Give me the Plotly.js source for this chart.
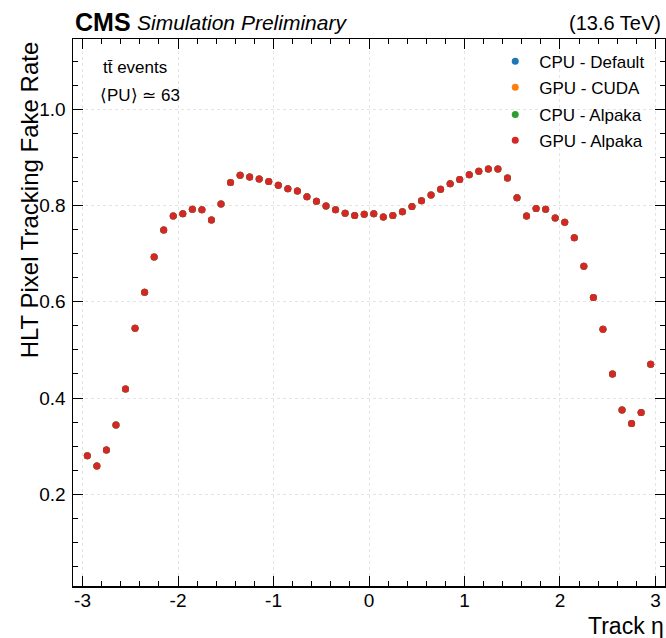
<!DOCTYPE html>
<html>
<head>
<meta charset="utf-8">
<script src="https://cdn.plot.ly/plotly-3.0.1.min.js"></script>
<style>
  html, body { margin: 0; padding: 0; background: #fff; }
  #chart { width: 666px; height: 638px; }
</style>
</head>
<body>
<div id="chart"></div>
<script>
// Bin centres in track eta
const etaCenters = [
  -2.95, -2.85, -2.75, -2.65, -2.55, -2.45, -2.35, -2.25, -2.15, -2.05,
  -1.95, -1.85, -1.75, -1.65, -1.55, -1.45, -1.35, -1.25, -1.15, -1.05,
  -0.95, -0.85, -0.75, -0.65, -0.55, -0.45, -0.35, -0.25, -0.15, -0.05,
   0.05,  0.15,  0.25,  0.35,  0.45,  0.55,  0.65,  0.75,  0.85,  0.95,
   1.05,  1.15,  1.25,  1.35,  1.45,  1.55,  1.65,  1.75,  1.85,  1.95,
   2.05,  2.15,  2.25,  2.35,  2.45,  2.55,  2.65,  2.75,  2.85,  2.95
];

// Fake rate per bin (all four back-ends overlap exactly in the picture)
const fakeRate = [
  0.280, 0.259, 0.292, 0.344, 0.419, 0.545, 0.620, 0.693, 0.749, 0.778,
  0.783, 0.792, 0.791, 0.770, 0.803, 0.848, 0.863, 0.859, 0.855, 0.850,
  0.842, 0.835, 0.830, 0.818, 0.809, 0.799, 0.791, 0.784, 0.779, 0.782,
  0.783, 0.776, 0.779, 0.787, 0.798, 0.810, 0.822, 0.834, 0.845, 0.854,
  0.864, 0.871, 0.876, 0.876, 0.857, 0.816, 0.778, 0.794, 0.792, 0.774,
  0.765, 0.733, 0.674, 0.609, 0.543, 0.450, 0.375, 0.347, 0.370, 0.470
];

const seriesNames = ['CPU - Default', 'GPU - CUDA', 'CPU - Alpaka', 'GPU - Alpaka'];
const seriesColors = ['#1f77b4', '#ff7f0e', '#2ca02c', '#d62728'];
const seriesValues = [fakeRate, fakeRate, fakeRate, fakeRate];

const xTickVals = [-3, -2, -1, 0, 1, 2, 3];
const xTickText = ['-3', '-2', '-1', '0', '1', '2', '3'];

const FONT = 'Liberation Sans, Arial, Helvetica, sans-serif';
const legendIds = ['legend', 'legend2', 'legend3', 'legend4'];
const legendY = [0.9585, 0.911, 0.861, 0.814];

const traces = seriesNames.map((name, i) => ({
  type: 'scatter',
  mode: 'markers',
  x: etaCenters,
  y: seriesValues[i],
  name: name,
  legend: legendIds[i],
  marker: { color: seriesColors[i], size: 7 },
  hoverinfo: 'x+y+name'
}));

const layout = {
  width: 666,
  height: 638,
  margin: { l: 73, r: 1, t: 39, b: 52 },
  paper_bgcolor: '#ffffff',
  plot_bgcolor: '#ffffff',
  font: { family: FONT, color: '#000', size: 19 },
  showlegend: true,
  xaxis: {
    range: [-3.1, 3.1],
    tickmode: 'array',
    tickvals: xTickVals,
    ticktext: xTickText,
    ticks: 'inside',
    ticklen: 10,
    tickwidth: 1,
    tickcolor: '#000',
    showline: true,
    linecolor: '#000',
    linewidth: 1.5,
    mirror: 'allticks',
    showgrid: true,
    gridcolor: '#e4e4e4',
    griddash: 'dot',
    gridwidth: 1,
    zeroline: false,
    ticklabelstandoff: -3,
    tickfont: { family: FONT, size: 19, color: '#000' },
    minor: { dtick: 0.2, tick0: 0, ticks: 'inside', ticklen: 5, tickcolor: '#000', showgrid: false }
  },
  yaxis: {
    range: [0.0094, 1.146],
    tick0: 0,
    dtick: 0.2,
    tickformat: '.1f',
    ticks: 'inside',
    ticklen: 10,
    tickwidth: 1,
    tickcolor: '#000',
    showline: true,
    linecolor: '#000',
    linewidth: 1.5,
    mirror: 'allticks',
    showgrid: true,
    gridcolor: '#e4e4e4',
    griddash: 'dot',
    gridwidth: 1,
    zeroline: false,
    ticklabelstandoff: 2,
    tickfont: { family: FONT, size: 19, color: '#000' },
    minor: { dtick: 0.05, tick0: 0, ticks: 'inside', ticklen: 5, tickcolor: '#000', showgrid: false }
  },
  annotations: [
    { text: '<b>CMS</b>', xref: 'paper', yref: 'paper', x: 0, y: 1.0317,
      xanchor: 'left', yanchor: 'middle', showarrow: false,
      font: { family: FONT, size: 25, color: '#000' } },
    { text: '<i>Simulation Preliminary</i>', xref: 'paper', yref: 'paper', x: 0.104, y: 1.0300,
      xanchor: 'left', yanchor: 'middle', showarrow: false,
      font: { family: FONT, size: 21, color: '#000' } },
    { text: '(13.6 TeV)', xref: 'paper', yref: 'paper', x: 0.9963, y: 1.0300,
      xanchor: 'right', yanchor: 'middle', showarrow: false,
      font: { family: FONT, size: 20, color: '#000' } },
    { text: 't\u0074\u0304 events', xref: 'paper', yref: 'paper', x: 0.047, y: 0.9475,
      xanchor: 'left', yanchor: 'middle', showarrow: false,
      font: { family: FONT, size: 17, color: '#000' } },
    { text: '\u27E8PU\u27E9 \u2243 63', xref: 'paper', yref: 'paper', x: 0.0417, y: 0.896,
      xanchor: 'left', yanchor: 'middle', showarrow: false,
      font: { family: FONT, size: 17, color: '#000' } },
    { text: 'HLT Pixel Tracking Fake Rate', xref: 'paper', yref: 'paper', x: -0.073, y: 1.0,
      xanchor: 'center', yanchor: 'top', textangle: -90, showarrow: false,
      font: { family: FONT, size: 24, color: '#000' } },
    { text: 'Track \u03B7', xref: 'paper', yref: 'paper', x: 1.0, y: -0.0735,
      xanchor: 'right', yanchor: 'middle', showarrow: false, borderpad: 0,
      font: { family: FONT, size: 23, color: '#000' } }
  ]
};

legendIds.forEach((id, i) => {
  layout[id] = {
    x: 0.7065, y: legendY[i], xanchor: 'left', yanchor: 'middle',
    itemwidth: 38,
    bgcolor: 'rgba(0,0,0,0)', borderwidth: 0,
    font: { family: FONT, size: 17, color: '#000' }
  };
});

Plotly.newPlot('chart', traces, layout, { displayModeBar: false, staticPlot: true });
</script>
</body>
</html>
